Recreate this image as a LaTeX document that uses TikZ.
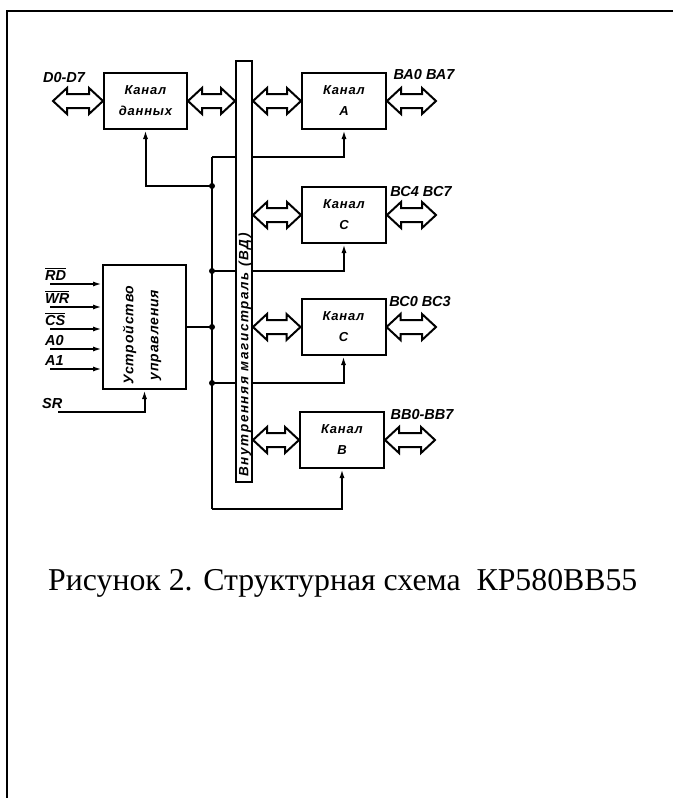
\documentclass[tikz,border=0pt]{standalone}
\usepackage{fontspec}
\setmainfont{Liberation Serif}
\newfontfamily\gostfont[LetterSpace=6]{Liberation Sans}
\newfontfamily\gostlbl{Liberation Sans}
\usetikzlibrary{calc, positioning}
\usetikzlibrary{arrows.meta}
\newcommand{\ovl}[1]{$\overline{\mbox{#1}}$}

\begin{document}
\begin{tikzpicture}[x=1pt, y=-1pt,
  blk/.style={draw, line width=2pt, fill=white, minimum width=84pt, minimum height=56pt,
    inner sep=0pt, align=center, font={\gostfont\bfseries\itshape\fontsize{13}{21}\selectfont}},
  lbl/.style={inner sep=0pt, font={\gostlbl\bfseries\itshape\fontsize{14.5}{25}\selectfont}},
  sig/.style={line width=2pt},
  sigarr/.style={sig, -{Latex[length=9pt, width=5pt]}},
  dblarr/.style={draw, line width=2pt, fill=white, line join=miter},
  jdot/.style={circle, fill, inner sep=0pt, minimum size=6pt}]
\useasboundingbox (0,0) rectangle (673,798);
\draw[line width=2pt] (7,798) -- (7,11) -- (673,11);
\def\dblarrow#1#2{%
  \draw[dblarr] let \p1=(#1), \p2=(#2) in
    (\x1,\y1) -- (\x1+14pt,\y1+13pt) -- (\x1+14pt,\y1+7pt) -- (\x2-14pt,\y1+7pt)
    -- (\x2-14pt,\y1+13pt) -- (\x2,\y1) -- (\x2-14pt,\y1-13pt) -- (\x2-14pt,\y1-7pt)
    -- (\x1+14pt,\y1-7pt) -- (\x1+14pt,\y1-13pt) -- cycle;}

\node[blk, minimum width=83pt] (dat) at (145.5,101) {Канал\\данных};
\node[blk, minimum width=83pt, minimum height=124pt] (ctrl) at (144.5,327) {};
\node[rotate=90, align=center, inner sep=0pt,
  font={\gostfont\bfseries\itshape\fontsize{14}{25}\selectfont}] (ctrltxt) at (142,335)
  {Устройство\\управления};
\node[blk] (chA) at (344,101) {Канал\\А};
\node[blk] (chCh) at (344,215) {Канал\\С};
\node[blk] (chCl) at (343.5,327) {Канал\\С};
\node[blk] (chB) at (342,440) {Канал\\В};

\coordinate (top) at (212,157);
\coordinate (bot) at (212,509);
\coordinate (j1) at (212,186);
\coordinate (j2) at (212,271);
\coordinate (j3) at (212,327);
\coordinate (j4) at (212,383);
\draw[sig] (top) -- (bot);
\draw[sigarr] (j1) -| (dat.south);
\draw[sig] (ctrl.east) -- (j3);
\draw[sigarr] (top) -| (chA.south);
\draw[sigarr] (j2) -| (chCh.south);
\draw[sigarr] (j4) -| (chCl.south);
\draw[sigarr] (bot) -| (chB.south);
\foreach \j in {j1, j2, j3, j4}
  \node[jdot] at (\j) {};

\node[draw, line width=2pt, fill=white, minimum width=16pt, minimum height=421pt,
  inner sep=0pt] (bus) at (244,271.5) {};
\node[rotate=90, inner sep=0pt,
  font={\gostfont\bfseries\itshape\fontsize{13.5}{16}\selectfont\addfontfeature{LetterSpace=12}}]
  (bustxt) at (245,355) {Внутренняя магистраль (ВД)};

\foreach \nm/\yy/\txt in {rd/284/{\ovl{RD}}, wr/307/{\ovl{WR}}, cs/329/{\ovl{CS}},
    azero/349/{A0}, aone/369/{A1}} {
  \coordinate (\nm) at (50,\yy);
  \node[lbl, anchor=base west] (l\nm) at (45,\yy-4) {\txt};
  \draw[sigarr] (\nm) -- (ctrl.west |- \nm);
}
\coordinate (sr) at (58,412);
\node[lbl, anchor=base west] (lsr) at (42,408) {SR};
\draw[sigarr] (sr) -| (ctrl.south);

\coordinate (pD) at (53,101);
\coordinate (pA) at (436,101);
\coordinate (pCh) at (436,215);
\coordinate (pCl) at (436,327);
\coordinate (pB) at (435,440);
\dblarrow{pD}{dat.west}
\dblarrow{dat.east}{bus.west |- dat.east}
\dblarrow{bus.east |- chA.west}{chA.west}
\dblarrow{chA.east}{pA}
\dblarrow{bus.east |- chCh.west}{chCh.west}
\dblarrow{chCh.east}{pCh}
\dblarrow{bus.east |- chCl.west}{chCl.west}
\dblarrow{chCl.east}{pCl}
\dblarrow{bus.east |- chB.west}{chB.west}
\dblarrow{chB.east}{pB}

\node[lbl] (lD) at (64,78) {D0-D7};
\node[lbl] (lA) at (424,75) {ВА0 ВА7};
\node[lbl] (lCh) at (421,192) {ВС4 ВС7};
\node[lbl] (lCl) at (420,302) {ВС0 ВС3};
\node[lbl] (lB) at (422,415) {ВВ0-ВВ7};

\node[anchor=base west, inner sep=0pt, font=\fontsize{31.8}{38}\selectfont] (cap) at (48,590)
  {Рисунок 2. Структурная схема\ \ КР580ВВ55};
\end{tikzpicture}
\end{document}
